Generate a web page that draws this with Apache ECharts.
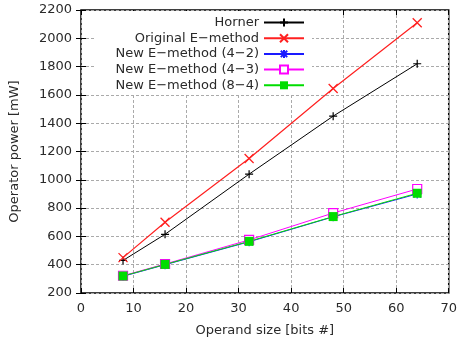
<!DOCTYPE html>
<html>
<head>
<meta charset="utf-8">
<script src="https://cdn.jsdelivr.net/npm/echarts@6/dist/echarts.min.js"></script>
<style>
  html, body { margin: 0; padding: 0; background: #fff; }
  #chart { width: 460px; height: 342px; }
</style>
</head>
<body>
<div id="chart"></div>
<script>
// operand sizes (bits)
const sizes = [8, 16, 32, 48, 64]

// operator power in mW
const horner = [430, 615, 1040, 1450, 1820]
const originalE = [450, 700, 1150, 1645, 2110]
const newE42 = [318, 400, 562, 738, 900]
const newE43 = [322, 405, 575, 765, 935]
const newE84 = [320, 402, 565, 740, 905]

const seriesNames = ['Horner', 'Original E\u2212method', 'New E\u2212method (4\u22122)', 'New E\u2212method (4\u22123)', 'New E\u2212method (8\u22124)']

const FONT = 'DejaVu Sans, sans-serif'

const pts = arr => sizes.map((s, i) => [s, arr[i]])

const plus = 'path://M5,0L5,10M0,5L10,5'
const cross = 'path://M0,0L10,10M10,0L0,10'
const star = 'path://M5,0L5,10M0,5L10,5M1,1L9,9M9,1L1,9'

const tickStyle = { show: true, inside: true, length: 5, lineStyle: { color: '#000', width: 1 } }
const labelStyle = { fontFamily: FONT, fontSize: 13, color: '#2a2a2a', margin: 9, formatter: v => String(v) }
const gridLine = { show: true, lineStyle: { color: '#aaa', type: [3, 2], width: 1 } }

const chart = echarts.init(document.getElementById('chart'))

chart.setOption({
  animation: false,
  grid: { left: 79, right: 2, top: 10, bottom: 46, show: true, borderColor: '#000', borderWidth: 1.5 },
  legend: {
    orient: 'vertical',
    right: 148,
    top: 11,
    align: 'right',
    itemWidth: 40,
    itemHeight: 10,
    itemGap: 2.7,
    padding: [5, 7, 2, 20],
    backgroundColor: '#fff',
    textStyle: { fontFamily: FONT, fontSize: 13, color: '#2a2a2a', lineHeight: 12.7 },
    data: seriesNames
  },
  xAxis: [{
    type: 'value', min: 0, max: 70, interval: 10,
    name: 'Operand size [bits #]',
    nameLocation: 'middle',
    nameGap: 31,
    nameTextStyle: { fontFamily: FONT, fontSize: 13, color: '#2a2a2a' },
    axisLine: { show: false },
    axisTick: tickStyle,
    axisLabel: labelStyle,
    splitLine: gridLine
  }, {
    type: 'value', min: 0, max: 70, interval: 10, position: 'top',
    axisLine: { show: false }, axisTick: tickStyle, axisLabel: { show: false }, splitLine: { show: false }
  }],
  yAxis: [{
    type: 'value', min: 200, max: 2200, interval: 200,
    name: 'Operator power [mW]',
    nameLocation: 'middle',
    nameGap: 60,
    nameTextStyle: { fontFamily: FONT, fontSize: 13, color: '#2a2a2a' },
    axisLine: { show: false },
    axisTick: tickStyle,
    axisLabel: labelStyle,
    splitLine: gridLine
  }, {
    type: 'value', min: 200, max: 2200, interval: 200, position: 'right',
    axisLine: { show: false }, axisTick: tickStyle, axisLabel: { show: false }, splitLine: { show: false }
  }],
  series: [
    {
      name: seriesNames[0], type: 'line', data: pts(horner),
      symbol: plus, symbolSize: 8,
      lineStyle: { color: '#000', width: 1 },
      itemStyle: { color: 'none', borderColor: '#000', borderWidth: 1.2 }
    },
    {
      name: seriesNames[1], type: 'line', data: pts(originalE),
      symbol: cross, symbolSize: 9,
      lineStyle: { color: '#ff2020', width: 1.2 },
      itemStyle: { color: 'none', borderColor: '#ff2020', borderWidth: 1.3 }
    },
    {
      name: seriesNames[2], type: 'line', data: pts(newE42),
      symbol: star, symbolSize: 9,
      lineStyle: { color: '#1a1aff', width: 1 },
      itemStyle: { color: 'none', borderColor: '#1a1aff', borderWidth: 1.2 }
    },
    {
      name: seriesNames[3], type: 'line', data: pts(newE43),
      symbol: 'rect', symbolSize: 9,
      lineStyle: { color: '#ff00ff', width: 1 },
      itemStyle: { color: '#fff', borderColor: '#ff00ff', borderWidth: 1.2 }
    },
    {
      name: seriesNames[4], type: 'line', data: pts(newE84),
      symbol: 'rect', symbolSize: 9,
      lineStyle: { color: '#00dd00', width: 1 },
      itemStyle: { color: '#00dd00', borderColor: '#00dd00', borderWidth: 0 }
    }
  ]
})
</script>
</body>
</html>
